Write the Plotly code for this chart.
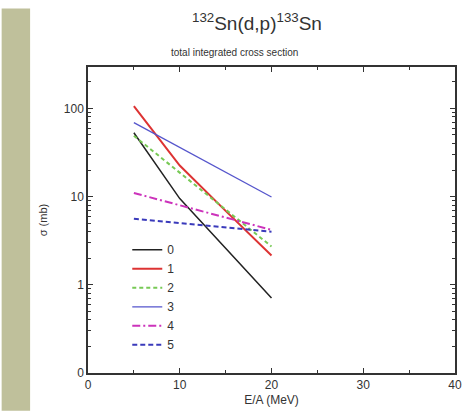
import plotly.graph_objects as go

energy = [5, 10, 15, 20]
labels = ["0", "1", "2", "3", "4", "5"]
sigma = {
    "0": [53, 9.5, 2.6, 0.71],
    "1": [106, 22.5, 6.9, 2.15],
    "2": [49, 18.7, 7.1, 2.72],
    "3": [69, 36, 19, 9.9],
    "4": [11, 8.0, 5.8, 4.2],
    "5": [5.6, 5.0, 4.5, 4.0],
}
colors = ["#222222", "#dd3333", "#77c955", "#5555cc", "#cc33bb", "#3a3abb"]
dashes = ["solid", "solid", "4px,3px", "solid", "8px,3px,2px,3px", "5px,3px"]
widths = [1.5, 2.0, 2.0, 1.3, 2.0, 2.0]

fig = go.Figure()
for lab, c, d, w in zip(labels, colors, dashes, widths):
    fig.add_trace(go.Scatter(x=energy, y=sigma[lab], mode="lines", name=lab,
                             line=dict(color=c, dash=d, width=w)))

font = "Liberation Sans, Arial, sans-serif"
fig.update_layout(
    width=471, height=414,
    margin=dict(l=88, r=9, t=67, b=38),
    paper_bgcolor="white", plot_bgcolor="white",
    font=dict(family=font, size=12, color="#333333"),
    showlegend=True,
    legend=dict(x=0.107, y=0.45, xanchor="left", yanchor="top",
                bgcolor="rgba(0,0,0,0)", font=dict(size=12, color="#333333"),
                tracegroupgap=0, itemwidth=30),
    xaxis=dict(range=[0, 40], tickvals=[0, 10, 20, 30, 40], showgrid=False, zeroline=False,
               showline=True, linecolor="#333333", linewidth=1.5, mirror="ticks",
               ticks="inside", ticklen=5, tickcolor="#333333",
               minor=dict(ticks="inside", ticklen=3, tickvals=[5, 15, 25, 35],
                          tickcolor="#333333", showgrid=False),
               title=dict(text="E/A (MeV)", font=dict(size=12), standoff=4),
               tickfont=dict(size=12)),
    yaxis=dict(type="log", range=[-1, 2.47], tickmode="linear", tick0=0, dtick=1,
               labelalias={"0.1": "0"}, showgrid=False, zeroline=False,
               showline=True, linecolor="#333333", linewidth=1.5, mirror="ticks",
               ticks="inside", ticklen=5, tickcolor="#333333",
               minor=dict(ticks="inside", ticklen=3, dtick="D1", tickcolor="#333333",
                          showgrid=False),
               title=dict(text="σ (mb)", font=dict(size=11), standoff=14),
               tickfont=dict(size=12)),
    shapes=[dict(type="rect", xref="paper", yref="paper", x0=-88/374, x1=-59/374,
                 y0=-38/309, y1=(376-8)/309, fillcolor="#bfc09b", line=dict(width=0),
                 layer="below")],
    annotations=[
        dict(text="<sup>132</sup>Sn(d,p)<sup>133</sup>Sn", xref="paper", yref="paper",
             x=(260-88)/374, y=(376-22)/309, xanchor="center", yanchor="middle",
             showarrow=False, font=dict(size=19, color="#333333")),
        dict(text="total integrated cross section", xref="paper", yref="paper",
             x=(237-88)/374, y=(376-52)/309, xanchor="center", yanchor="middle",
             showarrow=False, font=dict(size=10, color="#333333")),
    ],
)
fig.write_html("out.html")
